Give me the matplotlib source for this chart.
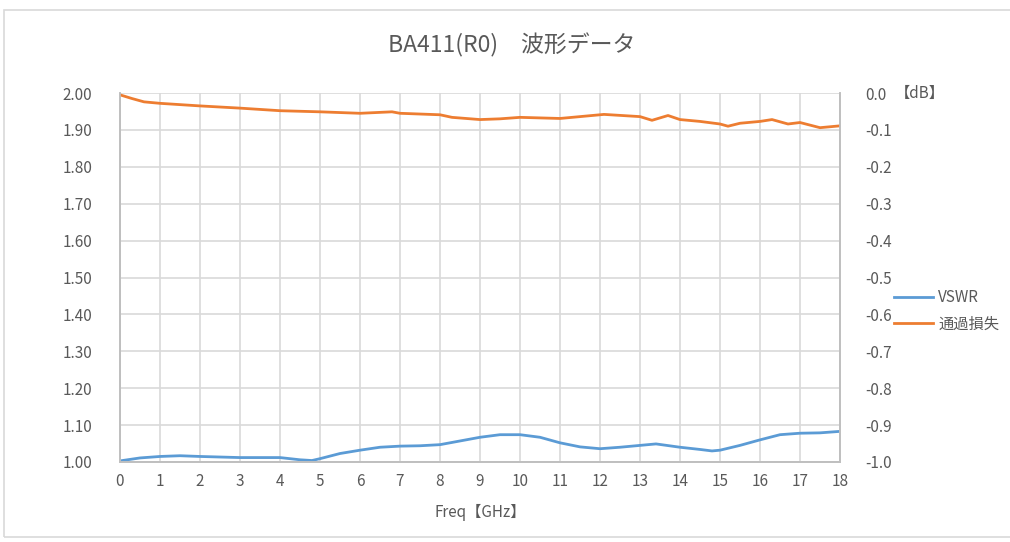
import matplotlib
matplotlib.use("Agg")
import matplotlib.pyplot as plt
from matplotlib.patches import Rectangle

plt.rcParams['font.family'] = ['Noto Sans CJK JP', 'DejaVu Sans']

# VSWR (left axis)
vswr_freq = [0, 0.5, 1, 1.5, 2, 3, 4, 4.5, 4.8, 5, 5.5, 6, 6.5, 7, 7.5, 8, 8.5, 9, 9.5,
             10, 10.5, 11, 11.5, 12, 12.5, 13, 13.4, 14, 14.5, 14.8, 15, 15.5, 16, 16.5,
             17, 17.5, 18]
vswr = [1.003, 1.011, 1.015, 1.017, 1.015, 1.012, 1.012, 1.006, 1.004, 1.009, 1.023,
        1.032, 1.040, 1.043, 1.044, 1.047, 1.057, 1.067, 1.074, 1.074, 1.067, 1.052,
        1.041, 1.036, 1.040, 1.045, 1.049, 1.040, 1.034, 1.030, 1.032, 1.045, 1.060,
        1.074, 1.078, 1.079, 1.083]

# insertion loss (right axis, dB)
loss_freq = [0, 0.3, 0.6, 1, 2, 3, 4, 5, 6, 6.8, 7, 8, 8.3, 9, 9.5, 10, 11, 11.5, 12.1, 13,
             13.3, 13.7, 14, 14.5, 15, 15.2, 15.5, 16, 16.3, 16.7, 17, 17.5, 18]
loss = [-0.005, -0.015, -0.024, -0.028, -0.035, -0.041, -0.048, -0.051, -0.055, -0.051,
        -0.055, -0.059, -0.066, -0.072, -0.070, -0.066, -0.069, -0.064, -0.058, -0.064,
        -0.074, -0.061, -0.072, -0.077, -0.084, -0.090, -0.082, -0.077, -0.072, -0.084,
        -0.080, -0.094, -0.089]

x_ticks = list(range(0, 19))
left_ticks = [1.00, 1.10, 1.20, 1.30, 1.40, 1.50, 1.60, 1.70, 1.80, 1.90, 2.00]
right_ticks = [-1.0, -0.9, -0.8, -0.7, -0.6, -0.5, -0.4, -0.3, -0.2, -0.1, 0.0]

grey = '#595959'
blue = '#5B9BD5'
orange = '#ED7D31'

fig = plt.figure(figsize=(10.1, 5.42), dpi=100)
fig.patches.append(Rectangle((4 / 1010, 5 / 542), 1.2, 527 / 542, transform=fig.transFigure,
                             fill=False, edgecolor='#D9D9D9', linewidth=1.2))
ax = fig.add_axes([120 / 1010, 1 - 462 / 542, 720 / 1010, 369 / 542])
ax2 = ax.twinx()

l1, = ax.plot(vswr_freq, vswr, color=blue, linewidth=2.0, label='VSWR')
l2, = ax2.plot(loss_freq, loss, color=orange, linewidth=2.0, label='通過損失')

ax.set_xlim(0, 18)
ax.set_ylim(1.0, 2.0)
ax2.set_ylim(-1.0, 0.0)
ax.set_xticks(x_ticks)
ax.set_yticks(left_ticks)
ax.set_yticklabels([f'{v:.2f}' for v in left_ticks])
ax2.set_yticks(right_ticks)
ax2.set_yticklabels([f'{v:.1f}' for v in right_ticks])

ax.grid(True, color='#D9D9D9', linewidth=1.2)
ax.set_axisbelow(True)
for a in (ax, ax2):
    a.spines['top'].set_visible(False)
    for side in ('left', 'right', 'bottom'):
        a.spines[side].set_color('#BFBFBF')
        a.spines[side].set_linewidth(1.2)
    a.tick_params(length=0, labelsize=11, labelcolor=grey)
ax.tick_params(axis='y', pad=20)
ax.tick_params(axis='x', pad=8)
ax2.tick_params(axis='y', pad=18)

ax.set_xlabel('Freq【GHz】', fontsize=11, color=grey, labelpad=10)
fig.text(895 / 1010, 1 - 93 / 542, '【dB】', fontsize=11, color=grey, va='center', ha='left')
fig.text(512 / 1010, 1 - 45 / 542, 'BA411(R0)　波形データ', fontsize=16.5, color=grey,
         ha='center', va='center')

fig.legend(handles=[l1, l2], loc='center left', bbox_to_anchor=(880 / 1010, 1 - 311 / 542),
           frameon=False, fontsize=11, labelcolor=grey, handlelength=2.6, handletextpad=0.3,
           labelspacing=0.6)

fig.savefig('out.png', dpi=100)
